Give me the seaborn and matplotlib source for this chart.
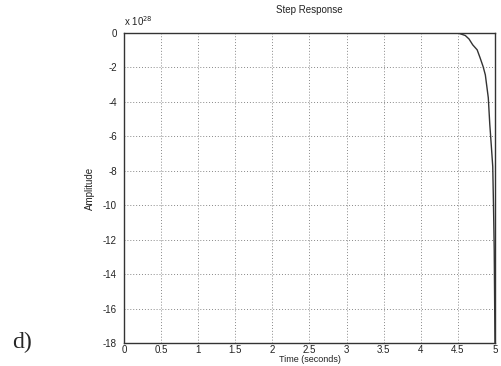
import pandas as pd
import matplotlib
matplotlib.use("Agg")
import matplotlib.pyplot as plt
import seaborn as sns

# Step response values (amplitude in units of 1e28)
time_s = [0.0, 1.0, 2.0, 3.0, 4.0, 4.5, 4.6, 4.65, 4.7, 4.76, 4.8, 4.84, 4.87, 4.91, 4.93, 4.95, 4.97, 4.98, 4.99, 5.0]
amplitude = [0.0, 0.0, 0.0, 0.0, 0.0, 0.0, -0.15, -0.35, -0.69, -0.98, -1.45, -1.95, -2.43, -3.76, -5.3, -6.5, -7.75, -10.0, -12.6, -18.0]

x_ticks = [0, 0.5, 1, 1.5, 2, 2.5, 3, 3.5, 4, 4.5, 5]
x_tick_labels = ["0", "0.5", "1", "1.5", "2", "2.5", "3", "3.5", "4", "4.5", "5"]
y_ticks = [0, -2, -4, -6, -8, -10, -12, -14, -16, -18]

df = pd.DataFrame({"Time": time_s, "Amplitude": amplitude})

sns.set_style("white")
plt.rcParams['font.family'] = ['Liberation Sans', 'DejaVu Sans']
plt.rcParams['axes.unicode_minus'] = False

fig = plt.figure(figsize=(5.02, 3.66), dpi=100)
ax = fig.add_axes([0.247, 0.062, 0.739, 0.848])

sns.lineplot(data=df, x="Time", y="Amplitude", ax=ax, color="#333333", linewidth=1.0)

ax.set_xlim(0, 5)
ax.set_ylim(-18, 0)
ax.set_xticks(x_ticks)
ax.set_xticklabels(x_tick_labels)
ax.set_yticks(y_ticks)
ax.grid(True, linestyle=(0, (1, 2)), color="#888888", linewidth=0.7)
ax.tick_params(direction="in", length=3, labelsize=7, colors="#222222")
ax.tick_params(axis="x", pad=1)
ax.tick_params(axis="y", pad=5)
for s in ax.spines.values():
    s.set_color("#333333")
    s.set_linewidth(1.0)

ax.set_title("Step Response", fontsize=7, pad=14, color="#222222")
ax.set_xlabel("Time (seconds)", fontsize=6.5, labelpad=0, color="#222222")
ax.set_ylabel("Amplitude", fontsize=7, labelpad=6, color="#222222")
ax.text(0.0, 1.015, r"x 10$^{28}$", transform=ax.transAxes, fontsize=7, color="#222222", va="bottom")

fig.text(0.025, 0.035, "d)", fontsize=17, family="Liberation Serif", va="bottom")

fig.savefig("out.png", dpi=100)
